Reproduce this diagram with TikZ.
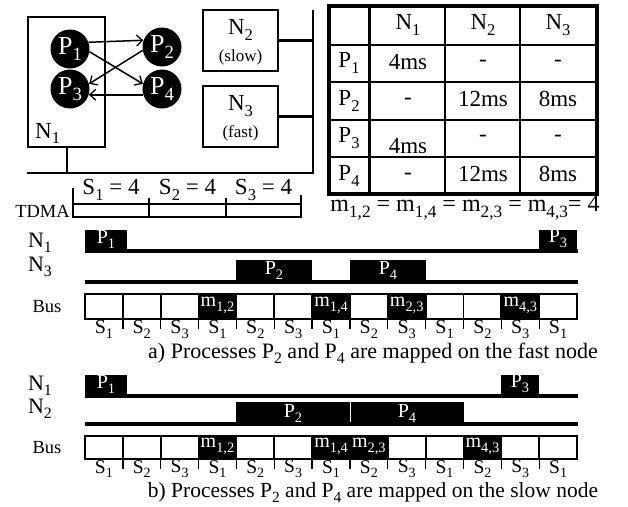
\documentclass[tikz,border=0pt]{standalone}
\usepackage{fontspec}
\setmainfont{Liberation Serif}
\usetikzlibrary{arrows.meta}
\newcommand\dn[1]{\raisebox{-0.25em}{\scalebox{0.72}{#1}}}
\newcommand\fs[1]{\fontsize{#1}{#1}\selectfont}
\begin{document}
\begin{tikzpicture}[x=1pt,y=-1pt,
  proc/.style={circle,fill=black,text=white,minimum size=39pt,inner sep=0pt,font=\fs{26}},
  nodebox/.style={draw,line width=2.8pt,rectangle,inner sep=0pt},
  msg/.style={-{Straight Barb[length=6pt,width=11pt,line width=1.3pt]},line width=1.5pt},
  net/.style={line width=2.8pt},
  big/.style={inner sep=0pt,font=\fs{23}},
  small/.style={inner sep=0pt,font=\fs{18.5}},
  tl/.style={inner sep=0pt,font=\fs{22}},
  sl/.style={inner sep=0pt,font=\fs{20}},
  blk/.style={fill=black},
  wtxt/.style={inner sep=0pt,text=white,font=\fs{20}},
  tline/.style={line width=3.5pt},
  slotbox/.style={line width=1.8pt},
  tick/.style={line width=1.3pt},
]
\useasboundingbox (0,0) rectangle (628,506);
% ---------- architecture ----------
\node[nodebox,minimum width=77pt,minimum height=130pt] (n1) at (66.5,82) {};
\node[big,anchor=base west] (n1lab) at (35,138) {N\dn{1}};
\node[nodebox,minimum width=75pt,minimum height=61pt] (n2) at (240.5,40.5) {};
\node[big] (n2lab) at (240.5,30) {N\dn{2}};
\node[small,font=\fs{17}] (n2sub) at (240.5,57) {(slow)};
\node[nodebox,minimum width=75pt,minimum height=61pt] (n3) at (240.5,116.5) {};
\node[big] (n3lab) at (240.5,106) {N\dn{3}};
\node[small,font=\fs{17}] (n3sub) at (240.5,133) {(fast)};
\coordinate (busL) at (27,173);
\coordinate (busR) at (313,173);
\coordinate (busT) at (313,10);
\draw[net] (busL) -- (busR) -- (busT);
\draw[net] (n1.south -| 67,0) -- (67,173);
\draw[net] (n2.east) -- (n2.east -| busR);
\draw[net] (n3.east) -- (n3.east -| busR);
\node[proc] (p1) at (70,49) {P\dn{1}};
\node[proc] (p2) at (162,47) {P\dn{2}};
\node[proc] (p3) at (70,89) {P\dn{3}};
\node[proc] (p4) at (162,89) {P\dn{4}};
\draw[msg] (p1.20) -- (p2.160);
\draw[msg] (p1.-8) -- (p4.165);
\draw[msg] (p2.190) -- (p3.15);
\draw[msg] (p4.197) -- (p3.-17);
% ---------- TDMA ----------
\node[small,anchor=east] (tdma) at (70,211) {TDMA};
\draw[slotbox] (73,204) rectangle (301,217);
\draw[slotbox] (149,204) -- (149,217) (226,204) -- (226,217);
\draw[tick] (73,188) -- (73,204) (149,198) -- (149,204) (226,198) -- (226,204) (301,195) -- (301,204);
\node[big] (s1) at (111,190) {S\dn{1} = 4};
\node[big] (s2) at (187.5,190) {S\dn{2} = 4};
\node[big] (s3) at (263.5,190) {S\dn{3} = 4};
% ---------- table ----------
\draw[line width=3.2pt] (329,6) rectangle (597,194);
\draw[line width=3pt] (369,6) -- (369,194);
\draw[line width=1.4pt] (445,6) -- (445,194) (520,6) -- (520,194);
\draw[line width=2.2pt] (329,45) -- (597,45);
\draw[line width=1.4pt] (329,82) -- (597,82) (329,120) -- (597,120) (329,157) -- (597,157);
\node[big] at (408,25) {N\dn{1}};
\node[big] at (483,25) {N\dn{2}};
\node[big] at (558,25) {N\dn{3}};
\node[big] at (349,63) {P\dn{1}};
\node[big] at (349,101) {P\dn{2}};
\node[big] at (349,138) {P\dn{3}};
\node[big] at (349,176) {P\dn{4}};
\node[big] at (408,62) {4ms};
\node[big] at (483,63) {-};
\node[big] at (558,63) {-};
\node[big] at (408,101) {-};
\node[big] at (483,99) {12ms};
\node[big] at (558,99) {8ms};
\node[big] at (408,146) {4ms};
\node[big] at (483,138) {-};
\node[big] at (558,138) {-};
\node[big] at (408,176) {-};
\node[big] at (483,174) {12ms};
\node[big] at (558,174) {8ms};
\node[big,font=\fs{24}] (meq) at (465,208) {m\dn{1,2} = m\dn{1,4} = m\dn{2,3} = m\dn{4,3}= 4};
% ---------- schedule a ----------
\node[tl] at (40,243) {N\dn{1}};
\node[tl] at (40,267) {N\dn{3}};
\fill[blk] (85,230) rectangle (127,252);
\node[wtxt] at (106,239) {P\dn{1}};
\fill[blk] (539.2,230) rectangle (577,252);
\node[wtxt] at (558,239) {P\dn{3}};
\draw[tline] (85,251) -- (577.5,251);
\fill[blk] (236.4,260) rectangle (312.1,283);
\node[wtxt] at (274,270) {P\dn{2}};
\fill[blk] (349.95,260) rectangle (425.65,283);
\node[wtxt] at (388,270) {P\dn{4}};
\draw[tline] (85,282) -- (577.5,282);
\node[small] at (47,307) {Bus};
\foreach \k in {3,6,8,11} \fill[blk] ({85+\k*37.85},294) rectangle ({85+(\k+1)*37.85},319);
\node[wtxt] at ({85+3.5*37.85},305) {m\dn{1,2}};
\node[wtxt] at ({85+6.5*37.85},305) {m\dn{1,4}};
\node[wtxt] at ({85+8.5*37.85},305) {m\dn{2,3}};
\node[wtxt] at ({85+11.5*37.85},305) {m\dn{4,3}};
\draw[slotbox] (85,294) rectangle (577,319);
\foreach \k in {1,...,12} {
  \draw[slotbox] ({85+\k*37.85},294) -- ({85+\k*37.85},319);
  \draw[tick] ({85+\k*37.85},319) -- ({85+\k*37.85},329);
}
\foreach \k/\s in {0/1,1/2,2/3,3/1,4/2,5/3,6/1,7/2,8/3,9/1,10/2,11/3,12/1}
  \node[sl] at ({85+(\k+0.5)*37.85},329) {S\dn{\s}};
\node[big,font=\fs{22}] (capa) at (373,353) {a) Processes P\dn{2} and P\dn{4} are mapped on the fast node};
% ---------- schedule b ----------
\node[tl] at (40,386) {N\dn{1}};
\node[tl] at (40,409) {N\dn{2}};
\fill[blk] (85,375) rectangle (127,397);
\node[wtxt] at (106,384) {P\dn{1}};
\fill[blk] (501.35,375) rectangle (539.2,397);
\node[wtxt] at (520,384) {P\dn{3}};
\draw[tline] (85,396) -- (577.5,396);
\fill[blk] (236.4,402) rectangle (463.5,425);
\draw[white,line width=0.8pt] (349.95,402) -- (349.95,423);
\node[wtxt] at (293,413) {P\dn{2}};
\node[wtxt] at (407,413) {P\dn{4}};
\draw[tline] (85,424) -- (577.5,424);
\node[small] at (47,448) {Bus};
\foreach \k in {3,6,7,10} \fill[blk] ({85+\k*37.85},436) rectangle ({85+(\k+1)*37.85},459);
\node[wtxt] at ({85+3.5*37.85},446) {m\dn{1,2}};
\node[wtxt] at ({85+6.5*37.85},446) {m\dn{1,4}};
\node[wtxt] at ({85+7.5*37.85},446) {m\dn{2,3}};
\node[wtxt] at ({85+10.5*37.85},446) {m\dn{4,3}};
\draw[slotbox] (85,436) rectangle (577,459);
\foreach \k in {1,...,12} {
  \draw[slotbox] ({85+\k*37.85},436) -- ({85+\k*37.85},459);
  \draw[tick] ({85+\k*37.85},459) -- ({85+\k*37.85},469);
}
\foreach \k/\s in {0/1,1/2,2/3,3/1,4/2,5/3,6/1,7/2,8/3,9/1,10/2,11/3,12/1}
  \node[sl,font=\fs{19.5}] at ({85+(\k+0.5)*37.85},469) {S\dn{\s}};
\node[big,font=\fs{21.5}] (capb) at (373,492.5) {b) Processes P\dn{2} and P\dn{4} are mapped on the slow node};
\end{tikzpicture}
\end{document}
